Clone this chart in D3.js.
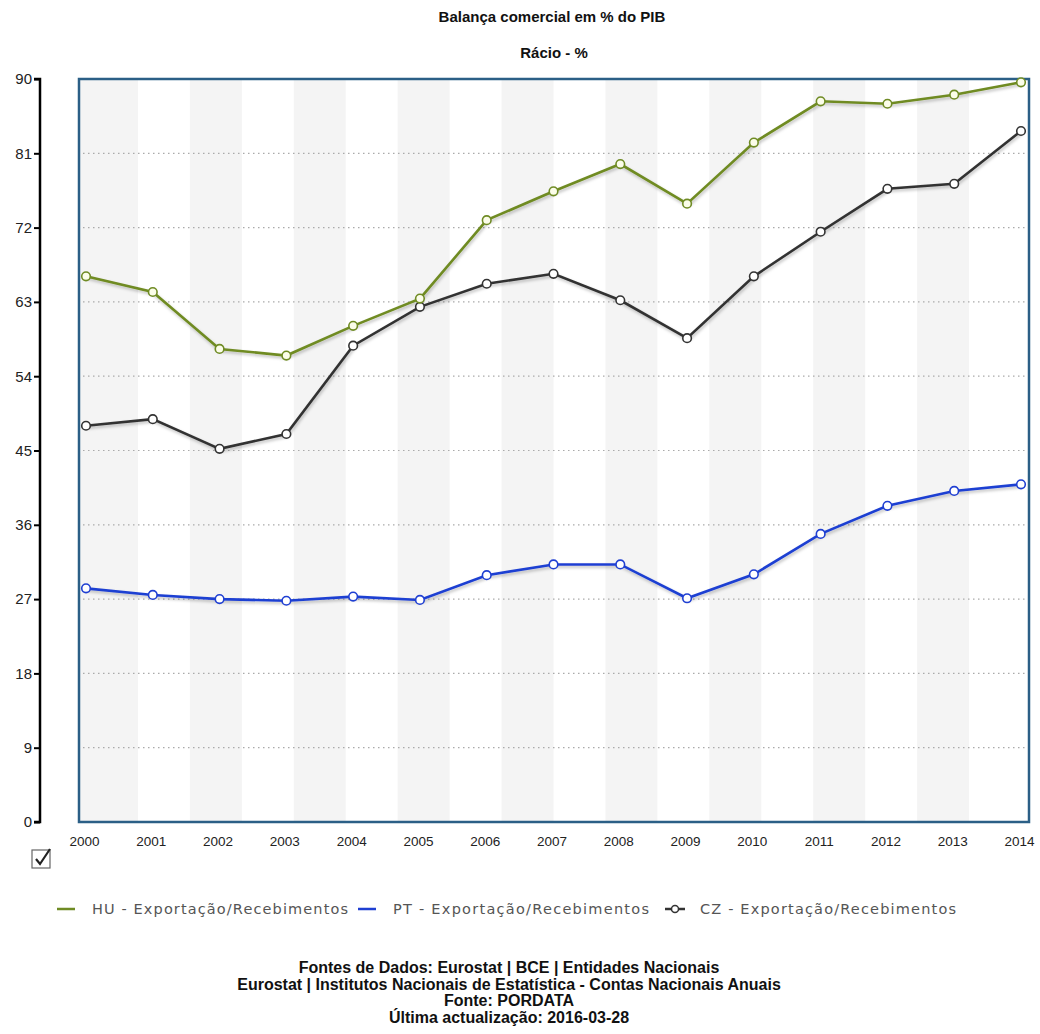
<!DOCTYPE html>
<html>
<head>
<meta charset="utf-8">
<script src="https://cdn.jsdelivr.net/npm/d3@7"></script>
<style>
  body { margin: 0; background: #fff; }
  svg { display: block; }
</style>
</head>
<body>
<svg id="chart" width="1040" height="1034"></svg>
<script>
// dados
const years = d3.range(2000, 2015);
const yTicks = [0, 9, 18, 27, 36, 45, 54, 63, 72, 81, 90];
const huValues = [66.1, 64.2, 57.3, 56.5, 60.1, 63.4, 72.9, 76.4, 79.7, 74.9, 82.3, 87.3, 87.0, 88.1, 89.6];
const ptValues = [28.3, 27.5, 27.0, 26.8, 27.3, 26.9, 29.9, 31.2, 31.2, 27.1, 30.0, 34.9, 38.3, 40.1, 40.9];
const czValues = [48.0, 48.8, 45.2, 47.0, 57.7, 62.4, 65.2, 66.4, 63.2, 58.6, 66.1, 71.5, 76.7, 77.3, 83.7];

const seriesNames = ['HU - Exportação/Recebimentos', 'PT - Exportação/Recebimentos', 'CZ - Exportação/Recebimentos'];
const seriesColors = ['#6f8b24', '#1f3fd2', '#333333'];
const seriesValues = [huValues, ptValues, czValues];
const footerLines = [
  'Fontes de Dados: Eurostat | BCE | Entidades Nacionais',
  'Eurostat | Institutos Nacionais de Estatística - Contas Nacionais Anuais',
  'Fonte: PORDATA',
  'Última actualização: 2016-03-28'
];

const svg = d3.select('#chart');
const box = { left: 79, right: 1029, top: 79, bottom: 822 };

const x = d3.scaleLinear().domain([2000, 2014]).range([86, 1021]);
const y = d3.scaleLinear().domain([0, 90]).range([box.bottom, box.top]);

// sombra das linhas
const defs = svg.append('defs');
const f = defs.append('filter').attr('id', 'shadow').attr('x', '-5%').attr('y', '-5%').attr('width', '110%').attr('height', '120%');
f.append('feDropShadow').attr('dx', 1).attr('dy', 2).attr('stdDeviation', 1.5)
  .attr('flood-color', '#000').attr('flood-opacity', 0.25);

// titulos
svg.append('text').attr('x', 552).attr('y', 22).attr('text-anchor', 'middle')
  .style('font', 'bold 15px "Liberation Sans", Arial, sans-serif').attr('fill', '#111')
  .text('Balança comercial em % do PIB');
svg.append('text').attr('x', 554).attr('y', 58).attr('text-anchor', 'middle')
  .style('font', 'bold 15px "Liberation Sans", Arial, sans-serif').attr('fill', '#111')
  .text('Rácio - %');

// faixas verticais
const bandW = (x(2014) - x(2000)) / 18;
const bandStarts = d3.range(0, 18, 2).map(i => x(2000) + i * bandW);
svg.append('g').selectAll('rect').data(bandStarts).join('rect')
  .attr('x', (d, i) => i === 0 ? box.left : d)
  .attr('y', box.top)
  .attr('width', (d, i) => i === 0 ? d + bandW - box.left : bandW)
  .attr('height', box.bottom - box.top)
  .attr('fill', '#f4f4f4');

// grelha pontilhada
svg.append('g').selectAll('line').data(yTicks.slice(1, -1)).join('line')
  .attr('x1', box.left + 4).attr('x2', box.right - 2)
  .attr('y1', d => y(d)).attr('y2', d => y(d))
  .attr('stroke', '#aaa').attr('stroke-width', 1.2).attr('stroke-dasharray', '1.5,3.5');

// caixa
svg.append('rect').attr('x', box.left).attr('y', box.top)
  .attr('width', box.right - box.left).attr('height', box.bottom - box.top)
  .attr('fill', 'none').attr('stroke', '#2b5f86').attr('stroke-width', 2.5);

// eixo y
const yAxis = svg.append('g').attr('transform', 'translate(40,0)')
  .call(d3.axisLeft(y).tickValues(yTicks).tickSize(6).tickPadding(2));
yAxis.select('.domain').attr('stroke', '#000').attr('stroke-width', 2.5).attr('d', `M-6,${y(90)}H0V${y(0)}H-6`);
yAxis.selectAll('.tick line').attr('stroke', '#000').attr('stroke-width', 2);
yAxis.selectAll('text').style('font', '15px "Liberation Sans", Arial, sans-serif').attr('fill', '#222');

// eixo x (so rotulos)
const xAxis = svg.append('g').attr('transform', `translate(0,${box.bottom})`)
  .call(d3.axisBottom(x).tickValues(years).tickFormat(d3.format('d')).tickSize(0).tickPadding(14));
xAxis.select('.domain').remove();
xAxis.selectAll('text').style('font', '13.5px "Liberation Sans", Arial, sans-serif').attr('fill', '#222')
  .attr('dx', -2);

// linhas
const line = d3.line().x((d, i) => x(years[i])).y(d => y(d));
const order = [1, 2, 0];
order.forEach(s => {
  const g = svg.append('g');
  g.append('path').datum(seriesValues[s]).attr('d', line)
    .attr('fill', 'none').attr('stroke', seriesColors[s]).attr('stroke-width', 2.6)
    .attr('filter', 'url(#shadow)');
  g.selectAll('circle').data(seriesValues[s]).join('circle')
    .attr('cx', (d, i) => x(years[i])).attr('cy', d => y(d)).attr('r', 4.3)
    .attr('fill', s === 0 ? '#fbfde9' : '#fff').attr('stroke', seriesColors[s]).attr('stroke-width', 1.6);
});

// caixa de selecao
const cb = svg.append('g').attr('transform', 'translate(32,850)');
cb.append('rect').attr('width', 18).attr('height', 18).attr('fill', '#fff').attr('stroke', '#666').attr('stroke-width', 1.2);
cb.append('path').attr('d', 'M4,9 L8,14 L18,-1').attr('fill', 'none').attr('stroke', '#222').attr('stroke-width', 2.2);

// legenda
const legendX = [57, 358, 665];
const legendTextW = [256, 262, 256];
const legend = svg.append('g').attr('transform', 'translate(0,909)');
seriesNames.forEach((name, i) => {
  const g = legend.append('g').attr('transform', `translate(${legendX[i]},0)`);
  g.append('line').attr('x1', 0).attr('x2', i === 2 ? 20 : 18).attr('y1', 0).attr('y2', 0)
    .attr('stroke', seriesColors[i]).attr('stroke-width', 2.5);
  if (i === 2) {
    g.append('circle').attr('cx', 10).attr('cy', 0).attr('r', 3.5).attr('fill', '#fff')
      .attr('stroke', seriesColors[i]).attr('stroke-width', 1.5);
  }
  g.append('text').attr('x', i === 2 ? 35 : 35).attr('y', 5)
    .style('font', '14.5px "DejaVu Sans", Verdana, sans-serif').attr('fill', '#555')
    .attr('textLength', 256).attr('lengthAdjust', 'spacing')
    .text(name);
});

// rodape
svg.append('g').selectAll('text').data(footerLines).join('text')
  .attr('x', 509).attr('y', (d, i) => 973 + i * 16.5).attr('text-anchor', 'middle')
  .style('font', 'bold 16px "Liberation Sans", Arial, sans-serif').attr('fill', '#111')
  .text(d => d);
</script>
</body>
</html>
